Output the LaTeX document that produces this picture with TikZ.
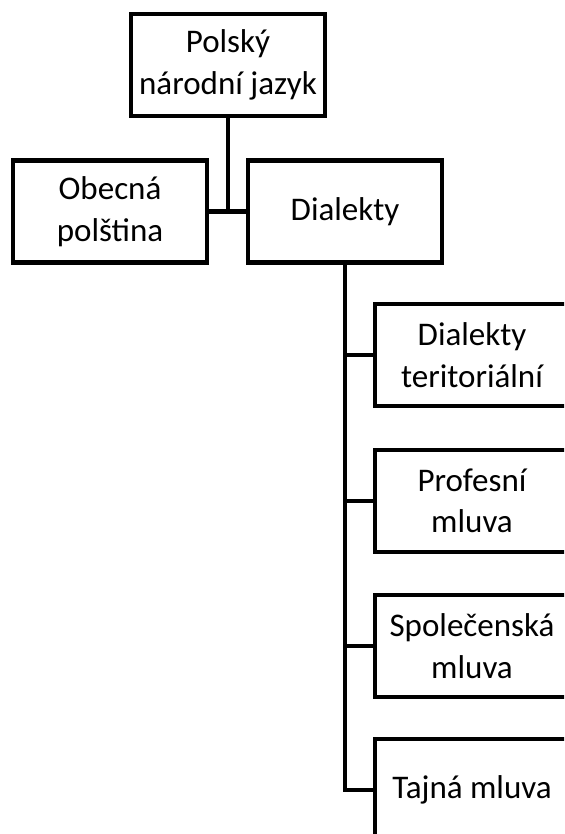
\documentclass[tikz,border=0pt]{standalone}
\usepackage{fontspec}
\setmainfont{Carlito}
\usetikzlibrary{arrows}
\tikzstyle{box} = [draw, line width=2.3pt, minimum width=3.88cm, minimum height=2.04cm, inner sep=0pt, align=center, font=\fontsize{18.8}{23.6}\selectfont]
\tikzstyle{line} = [draw, line width=2.3pt]

\begin{document}
\begin{tikzpicture}[x=0.02cm, y=-0.02cm]
	\useasboundingbox (0,0) rectangle (564,834);
	\clip (0,0) rectangle (564,834);
	%Kästen
	\node[box] (jazyk) at (228,65) {Polský\\národní jazyk};
	\node[box] (obecna) at (110,211.5) {Obecná\\polština};
	\node[box] (dialekty) at (345,211.5) {Dialekty};
	\node[box] (teritor) at (472,355) {Dialekty\\teritoriální};
	\node[box] (profesni) at (472,501) {Profesní\\mluva};
	\node[box] (spolec) at (472,646) {Společenská\\mluva};
	\node[box] (tajna) at (472,790) {Tajná mluva};
	%Verbindungen
	\draw[line] (jazyk.south) -- (jazyk.south |- obecna.east);
	\draw[line] (obecna.east) -- (dialekty.west);
	\draw[line] (dialekty.south) -- (dialekty.south |- tajna.west) -- (tajna.west);
	\foreach \n in {teritor, profesni, spolec}
		\draw[line] (dialekty.south |- \n.west) -- (\n.west);
\end{tikzpicture}
\end{document}
